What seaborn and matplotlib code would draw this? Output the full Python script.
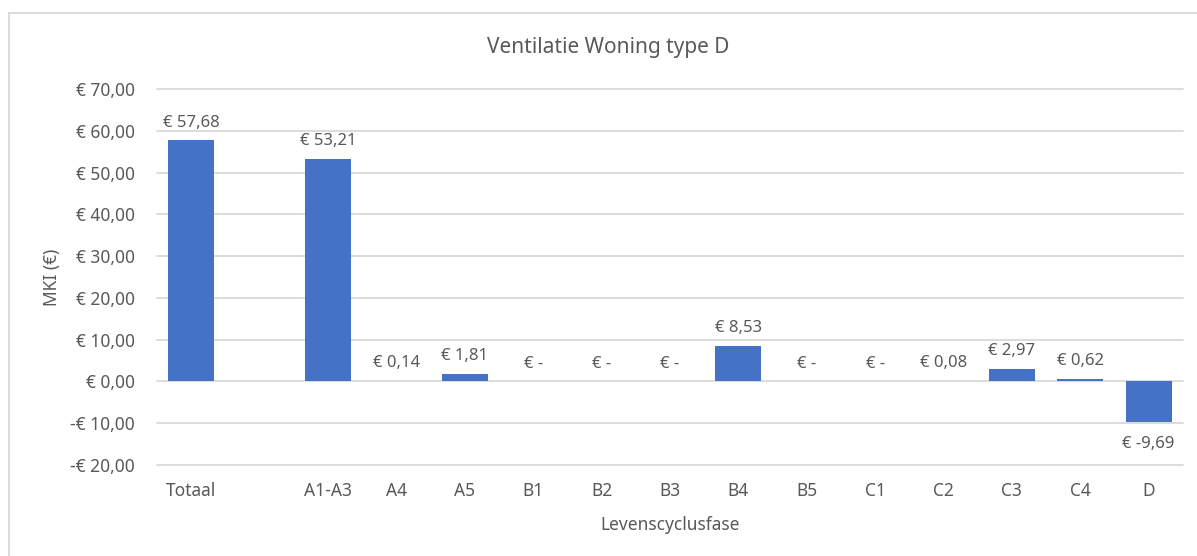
import numpy as np
import pandas as pd
import matplotlib
matplotlib.use("Agg")
import matplotlib.pyplot as plt
import seaborn as sns
from matplotlib.ticker import FuncFormatter, MultipleLocator
from matplotlib.lines import Line2D

categories = ["Totaal", " ", "A1-A3", "A4", "A5", "B1", "B2", "B3", "B4", "B5",
              "C1", "C2", "C3", "C4", "D"]
values = [57.68, np.nan, 53.21, 0.14, 1.81, 0.0, 0.0, 0.0, 8.53, 0.0,
          0.0, 0.08, 2.97, 0.62, -9.69]

title = "Ventilatie Woning type D"
xlabel = "Levenscyclusfase"
ylabel = "MKI (€)"

sns.set_theme(style="white")
plt.rcParams['font.family'] = ['Noto Sans', 'DejaVu Sans']

grey = "#595959"
df = pd.DataFrame({"cat": categories, "val": values})

fig = plt.figure(figsize=(11.97, 5.56), dpi=100)
ax = fig.add_axes([0.1312, 0.1637, 0.857, 0.6762])
sns.barplot(data=df, x="cat", y="val", order=categories, color="#4472C4",
            width=0.67, saturation=1, linewidth=0, ax=ax)

ax.set_ylim(-20, 70)
ax.yaxis.set_major_locator(MultipleLocator(10))

def fmt(v, pos=None):
    s = f"{abs(v):.2f}".replace(".", ",")
    return ("-€ " if v < 0 else "€ ") + s
ax.yaxis.set_major_formatter(FuncFormatter(fmt))
ax.grid(axis="y", color="#d9d9d9", linewidth=1.3)
for gl in ax.get_ygridlines():
    gl.set_clip_on(False)
ax.set_axisbelow(True)
for s in ax.spines.values():
    s.set_visible(False)
ax.tick_params(axis="both", length=0, colors=grey, labelsize=12.5)
ax.tick_params(axis="y", pad=16)
ax.tick_params(axis="x", pad=12)

ax.set_xlabel(xlabel, color=grey, fontsize=12.5, labelpad=12)
ax.set_ylabel(ylabel, color=grey, fontsize=12.5)
ax.yaxis.set_label_coords(-0.094, 0.5)
fig.text(0.508, 0.915, title, ha="center", va="center", fontsize=15, color=grey)

for i, v in enumerate(values):
    if np.isnan(v):
        continue
    if v == 0:
        lab = "€ -"
    elif v < 0:
        lab = "€ -" + f"{abs(v):.2f}".replace(".", ",")
    else:
        lab = "€ " + f"{v:.2f}".replace(".", ",")
    if v >= 0:
        ax.annotate(lab, (i, v), xytext=(0, 7), textcoords="offset points",
                    ha="center", va="bottom", fontsize=12, color=grey)
    else:
        ax.annotate(lab, (i, v), xytext=(0, -10), textcoords="offset points",
                    ha="center", va="top", fontsize=12, color=grey)

fx0 = 8.5 / 1197
fy0 = 1 - 12.5 / 556
fig.add_artist(Line2D([fx0, fx0], [0, fy0], transform=fig.transFigure,
                      color="#d9d9d9", linewidth=1.3))
fig.add_artist(Line2D([fx0, 1], [fy0, fy0], transform=fig.transFigure,
                      color="#d9d9d9", linewidth=1.3))

fig.savefig("out.png", dpi=100)
